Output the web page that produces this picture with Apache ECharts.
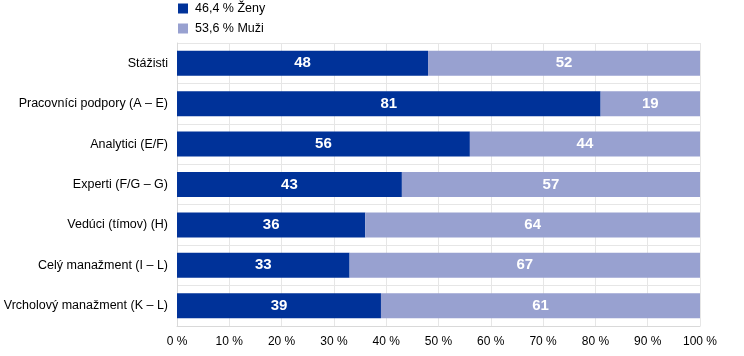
<!DOCTYPE html>
<html><head><meta charset="utf-8">
<script src="https://cdn.jsdelivr.net/npm/echarts@6/dist/echarts.min.js"></script>
<style>html,body{margin:0;padding:0;background:#fff}#c{width:744px;height:356px}</style>
</head><body><div id="c"></div>
<script>
var categories = ["Stážisti","Pracovníci podpory (A – E)","Analytici (E/F)","Experti (F/G – G)","Vedúci (tímov) (H)","Celý manažment (I – L)","Vrcholový manažment (K – L)"];
var zeny = [48,81,56,43,36,33,39];
var muzi = [52,19,44,57,64,67,61];
var legendNames = ["46,4 % Ženy","53,6 % Muži"];
var ticks = [0,10,20,30,40,50,60,70,80,90,100];

var chart = echarts.init(document.getElementById('c'), null, {renderer:'canvas'});
var font = 'Liberation Sans, Arial, sans-serif';
chart.setOption({
  animation:false,
  legend:{
    orient:'vertical', left:178, top:2, padding:0, itemWidth:10, itemHeight:10, itemGap:7,
    icon:'rect',
    textStyle:{fontFamily:font, fontSize:12.5, color:'#000', padding:[0,0,0,2]},
    data:legendNames
  },
  grid:{left:177, right:44, top:43, bottom:30, containLabel:false},
  xAxis:{
    type:'value', min:0, max:100, interval:10,
    axisLine:{show:true, lineStyle:{color:'#d9d9d9'}},
    axisTick:{show:false},
    splitLine:{show:true, lineStyle:{color:'#e6e6e6'}},
    axisLabel:{formatter:function(v){return v+' %';}, fontFamily:font, fontSize:12, color:'#000', margin:10}
  },
  yAxis:{
    type:'category', inverse:true, data:categories,
    axisLine:{show:true, lineStyle:{color:'#d9d9d9'}},
    axisTick:{show:false},
    splitLine:{show:true, lineStyle:{color:'#e6e6e6'}},
    axisLabel:{fontFamily:font, fontSize:12.5, color:'#000', margin:9}
  },
  series:[
    {name:legendNames[0], type:'bar', stack:'a', data:zeny, barWidth:25,
     itemStyle:{color:'#003299'},
     label:{show:true, position:'inside', color:'#fff', fontWeight:'bold', fontSize:15, fontFamily:font}},
    {name:legendNames[1], type:'bar', stack:'a', data:muzi, barWidth:25,
     itemStyle:{color:'#98a1d0'},
     label:{show:true, position:'inside', color:'#fff', fontWeight:'bold', fontSize:15, fontFamily:font}}
  ]
});
</script></body></html>
